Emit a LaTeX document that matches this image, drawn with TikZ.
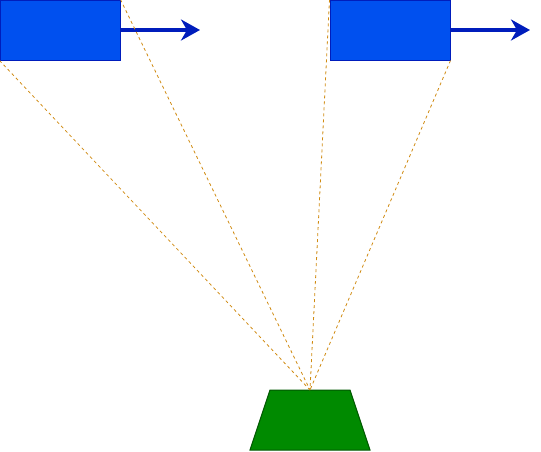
\documentclass[tikz,border=0pt]{standalone}
\usetikzlibrary{arrows.meta}
\definecolor{boxblue}{HTML}{0050EF}
\definecolor{boxedge}{HTML}{001DBC}
\definecolor{basegreen}{HTML}{008A00}
\definecolor{baseedge}{HTML}{005700}
\definecolor{rayorange}{HTML}{D08A10}
\tikzset{
    blockbox/.style={draw=boxedge,fill=boxblue,minimum width=120pt,minimum height=60pt,inner sep=0pt,line width=1pt},
    motion/.style={draw=boxedge,line width=4pt,-{Stealth[length=19pt,width=21pt,inset=6pt]}},
    ray/.style={draw=rayorange,line width=0.8pt,dash pattern=on 3pt off 3pt}
}
\begin{document}
\begin{tikzpicture}[x=1pt,y=-1pt]
            \useasboundingbox (0,0) rectangle (541,451);
            \node[blockbox] (left) at (60,30) {};
            \node[blockbox] (right) at (390,30) {};
            \draw[draw=baseedge,fill=basegreen,line width=1pt] (270,390) -- (350,390) -- (370,450) -- (250,450) -- cycle;
            \coordinate (apex) at (310,390);
            \coordinate (leftend) at (200,30);
            \coordinate (rightend) at (530,30);
            \draw[motion] (left.east) -- (leftend);
            \draw[motion] (right.east) -- (rightend);
            \draw[ray] (left.south west) -- (apex);
            \draw[ray] (left.north east) -- (apex);
            \draw[ray] (right.north west) -- (apex);
            \draw[ray] (right.south east) -- (apex);
        \end{tikzpicture}
\end{document}
